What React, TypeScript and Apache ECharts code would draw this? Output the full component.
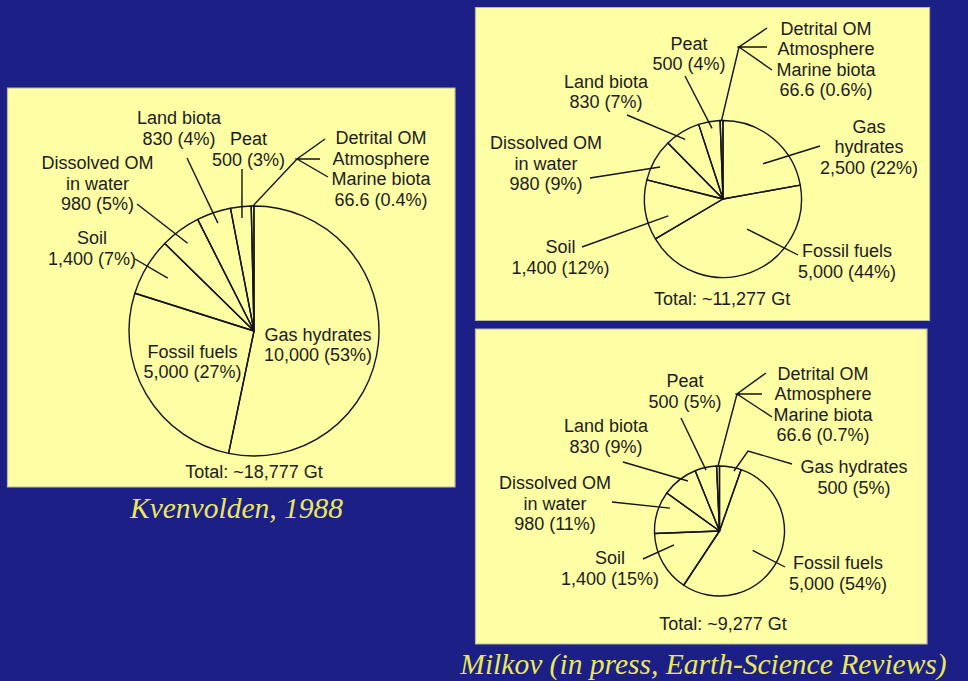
import React, { useEffect, useRef } from 'react';
import * as echarts from 'echarts';

// ---------- data ----------
const categories = [
  'Gas hydrates',
  'Fossil fuels',
  'Soil',
  'Dissolved OM in water',
  'Land biota',
  'Peat',
  'Detrital OM, Atmosphere, Marine biota',
];
const kvenvoldenValues = [10000, 5000, 1400, 980, 830, 500, 66.6];
const milkovValues = [2500, 5000, 1400, 980, 830, 500, 66.6];
const milkovPressValues = [500, 5000, 1400, 980, 830, 500, 66.6];

// label lines shown for each category (per chart)
const labelNamesA = [
  ['Gas hydrates'],
  ['Fossil fuels'],
  ['Soil'],
  ['Dissolved OM', 'in water'],
  ['Land biota'],
  ['Peat'],
  ['Detrital OM', 'Atmosphere', 'Marine biota'],
];
const labelNamesB = [
  ['Gas', 'hydrates'],
  ['Fossil fuels'],
  ['Soil'],
  ['Dissolved OM', 'in water'],
  ['Land biota'],
  ['Peat'],
  ['Detrital OM', 'Atmosphere', 'Marine biota'],
];
const captions = ['Kvenvolden, 1988', 'Milkov (in press, Earth-Science Reviews)'];

// ---------- layout (positions, not data) ----------
type Item = { label: [number, number]; line?: [number, number][]; t?: number; f?: number };
type Layout = { cx: number; cy: number; r: number; items: Item[] };

const layouts: Layout[] = [
  {
    cx: 254, cy: 331, r: 125,
    items: [
      { label: [64, 14] },
      { label: [-61.5, 31] },
      { label: [-162, -82.5], line: [[-119, -72]], t: 0.52, f: 0.81 },
      { label: [-156.5, -147.5], line: [[-117, -127]], t: 0.45, f: 0.88 },
      { label: [-75, -202.5], line: [[-67, -173]], t: 0.52, f: 0.91 },
      { label: [-5.5, -181.5], line: [[-12, -162]], t: 0.5, f: 0.91 },
      { label: [127, -162], line: [[43, -172], [71, -192], [43, -172], [66, -172], [43, -172], [74, -154]], t: 0.6, f: 1.0 },
    ],
  },
  {
    cx: 723, cy: 199, r: 78.5,
    items: [
      { label: [146, -52], line: [[97, -53]], t: 0.61, f: 0.68 },
      { label: [124, 62.5], line: [[75, 56]], t: 0.385, f: 0.49 },
      { label: [-162.5, 58.5], line: [[-141, 48]], t: 0.3, f: 0.73 },
      { label: [-177, -35.5], line: [[-133, -21]], t: 0.41, f: 0.9 },
      { label: [-117, -107], line: [[-96, -84]], t: 0.46, f: 0.9 },
      { label: [-34, -145], line: [[-38, -123]], t: 0.58, f: 0.91 },
      { label: [103, -139.5], line: [[16, -152], [44, -171], [16, -152], [44, -152], [16, -152], [49, -129]], t: 0.5, f: 1.0 },
    ],
  },
  {
    cx: 719.5, cy: 531, r: 65,
    items: [
      { label: [134.5, -53.5], line: [[28.5, -80], [72.5, -67]], t: 0.7, f: 0.95 },
      { label: [118.5, 42.5], line: [[65.5, 36]], t: 0.52, f: 0.59 },
      { label: [-109.5, 37.5], line: [[-76.5, 28]], t: 0.73, f: 0.73 },
      { label: [-164.5, -27.5], line: [[-107.5, -29]], t: 0.71, f: 0.84 },
      { label: [-113.5, -94.5], line: [[-96.5, -69]], t: 0.68, f: 0.91 },
      { label: [-34.5, -139.5], line: [[-38.5, -113]], t: 0.49, f: 0.96 },
      { label: [103.5, -126.5], line: [[17.5, -137], [46.5, -158], [17.5, -137], [42.5, -137], [17.5, -137], [52.5, -114]], t: 0.5, f: 1.0 },
    ],
  },
];

const seriesValues = [kvenvoldenValues, milkovValues, milkovPressValues];
const seriesNames = [labelNamesA, labelNamesB, labelNamesA];

const YELLOW = '#fefea4';
const BLUE = '#1b1f86';
const INK = '#1c1c1c';
const SANS = '"Liberation Sans", Arial, Helvetica, sans-serif';
const SERIF = '"Liberation Serif", "Times New Roman", serif';

const fmtNum = (v: number) => v.toLocaleString('en-US');
const fmtPct = (p: number) => (p >= 1 ? String(Math.round(p)) : p.toFixed(1));

export default function App() {
  const ref = useRef<HTMLDivElement>(null);

  useEffect(() => {
    if (!ref.current) return;
    const chart = echarts.init(ref.current, undefined, { renderer: 'svg' });

    const getAnchor = (si: number, di: number, t: number, f: number): [number, number] => {
      const L = layouts[si];
      let cx = L.cx, cy = L.cy, r = L.r, sa = 0, ea = 0;
      let ok = false;
      try {
        const lay = (chart as any).getModel().getSeriesByIndex(si).getData().getItemLayout(di);
        if (lay && isFinite(lay.startAngle) && isFinite(lay.endAngle)) {
          cx = lay.cx; cy = lay.cy; r = lay.r; sa = lay.startAngle; ea = lay.endAngle; ok = true;
        }
      } catch (e) { ok = false; }
      if (!ok) {
        const vals = seriesValues[si];
        const tot = vals.reduce((a, b) => a + b, 0);
        let cum = 0;
        for (let k = 0; k < di; k++) cum += vals[k];
        sa = -Math.PI / 2 + (cum / tot) * Math.PI * 2;
        ea = sa + (vals[di] / tot) * Math.PI * 2;
      }
      const a = sa + (ea - sa) * t;
      return [cx + r * f * Math.cos(a), cy + r * f * Math.sin(a)];
    };

    const series = layouts.map((L, si) => {
      const vals = seriesValues[si];
      const names = seriesNames[si];
      const total = vals.reduce((a, b) => a + b, 0);
      return {
        type: 'pie',
        z: 5,
        silent: true,
        center: [L.cx, L.cy],
        radius: L.r,
        startAngle: 90,
        clockwise: true,
        minAngle: 0,
        avoidLabelOverlap: false,
        itemStyle: { color: 'rgba(0,0,0,0)', borderColor: '#141414', borderWidth: 1.4 },
        emphasis: { disabled: true },
        label: {
          show: true,
          position: 'outside',
          color: INK,
          fontFamily: SANS,
          fontSize: 18,
          lineHeight: 20.5,
          align: 'center',
          formatter: (p: any) => {
            const v = vals[p.dataIndex];
            return names[p.dataIndex].join('\n') + '\n' + fmtNum(v) + ' (' + fmtPct((v / total) * 100) + '%)';
          },
        },
        labelLine: { show: true, showAbove: true, smooth: false, length: 10, length2: 10, lineStyle: { color: '#141414', width: 1.4 } },
        labelLayout: (p: any) => {
          const it = L.items[p.dataIndex];
          const res: any = {
            x: L.cx + it.label[0],
            y: L.cy + it.label[1],
            align: 'center',
            verticalAlign: 'middle',
          };
          if (it.line) {
            const anchor = getAnchor(si, p.dataIndex, it.t ?? 0.5, it.f ?? 0.9);
            res.labelLinePoints = [anchor, ...it.line.map(([dx, dy]) => [L.cx + dx, L.cy + dy])];
          }
          return res;
        },
        data: categories.map((name, i) => ({
          name,
          value: vals[i],
          labelLine: { show: !!L.items[i].line },
        })),
      };
    });

    const totalTexts = layouts.map((L, si) => {
      const total = seriesValues[si].reduce((a, b) => a + b, 0);
      return 'Total: ~' + fmtNum(Math.round(total)) + ' Gt';
    });

    const panelStyle = { fill: YELLOW, stroke: '#b9b9a6', lineWidth: 1.2 };

    chart.setOption({
      animation: false,
      backgroundColor: BLUE,
      graphic: [
        { type: 'rect', z: 0, silent: true, shape: { x: 7.5, y: 88, width: 447.5, height: 399 }, style: panelStyle },
        { type: 'rect', z: 0, silent: true, shape: { x: 475.5, y: 7.5, width: 454, height: 313 }, style: panelStyle },
        { type: 'rect', z: 0, silent: true, shape: { x: 475.5, y: 329, width: 451.5, height: 315 }, style: panelStyle },
        { type: 'text', z: 6, silent: true, x: 254, y: 472, style: { text: totalTexts[0], fill: INK, font: '18px ' + SANS, align: 'center', verticalAlign: 'middle' } },
        { type: 'text', z: 6, silent: true, x: 722, y: 299, style: { text: totalTexts[1], fill: INK, font: '18px ' + SANS, align: 'center', verticalAlign: 'middle' } },
        { type: 'text', z: 6, silent: true, x: 723, y: 624, style: { text: totalTexts[2], fill: INK, font: '18px ' + SANS, align: 'center', verticalAlign: 'middle' } },
        { type: 'text', z: 6, silent: true, x: 236.5, y: 508, style: { text: captions[0], fill: '#e9e85a', font: 'italic 29.5px ' + SERIF, align: 'center', verticalAlign: 'middle' } },
        { type: 'text', z: 6, silent: true, x: 703.5, y: 664, style: { text: captions[1], fill: '#e9e85a', font: 'italic 29.5px ' + SERIF, align: 'center', verticalAlign: 'middle' } },
      ],
      series,
    } as any);

    return () => chart.dispose();
  }, []);

  return (
    <div
      ref={ref}
      style={{ position: 'fixed', left: 0, top: 0, width: 968, height: 681 }}
    />
  );
}
